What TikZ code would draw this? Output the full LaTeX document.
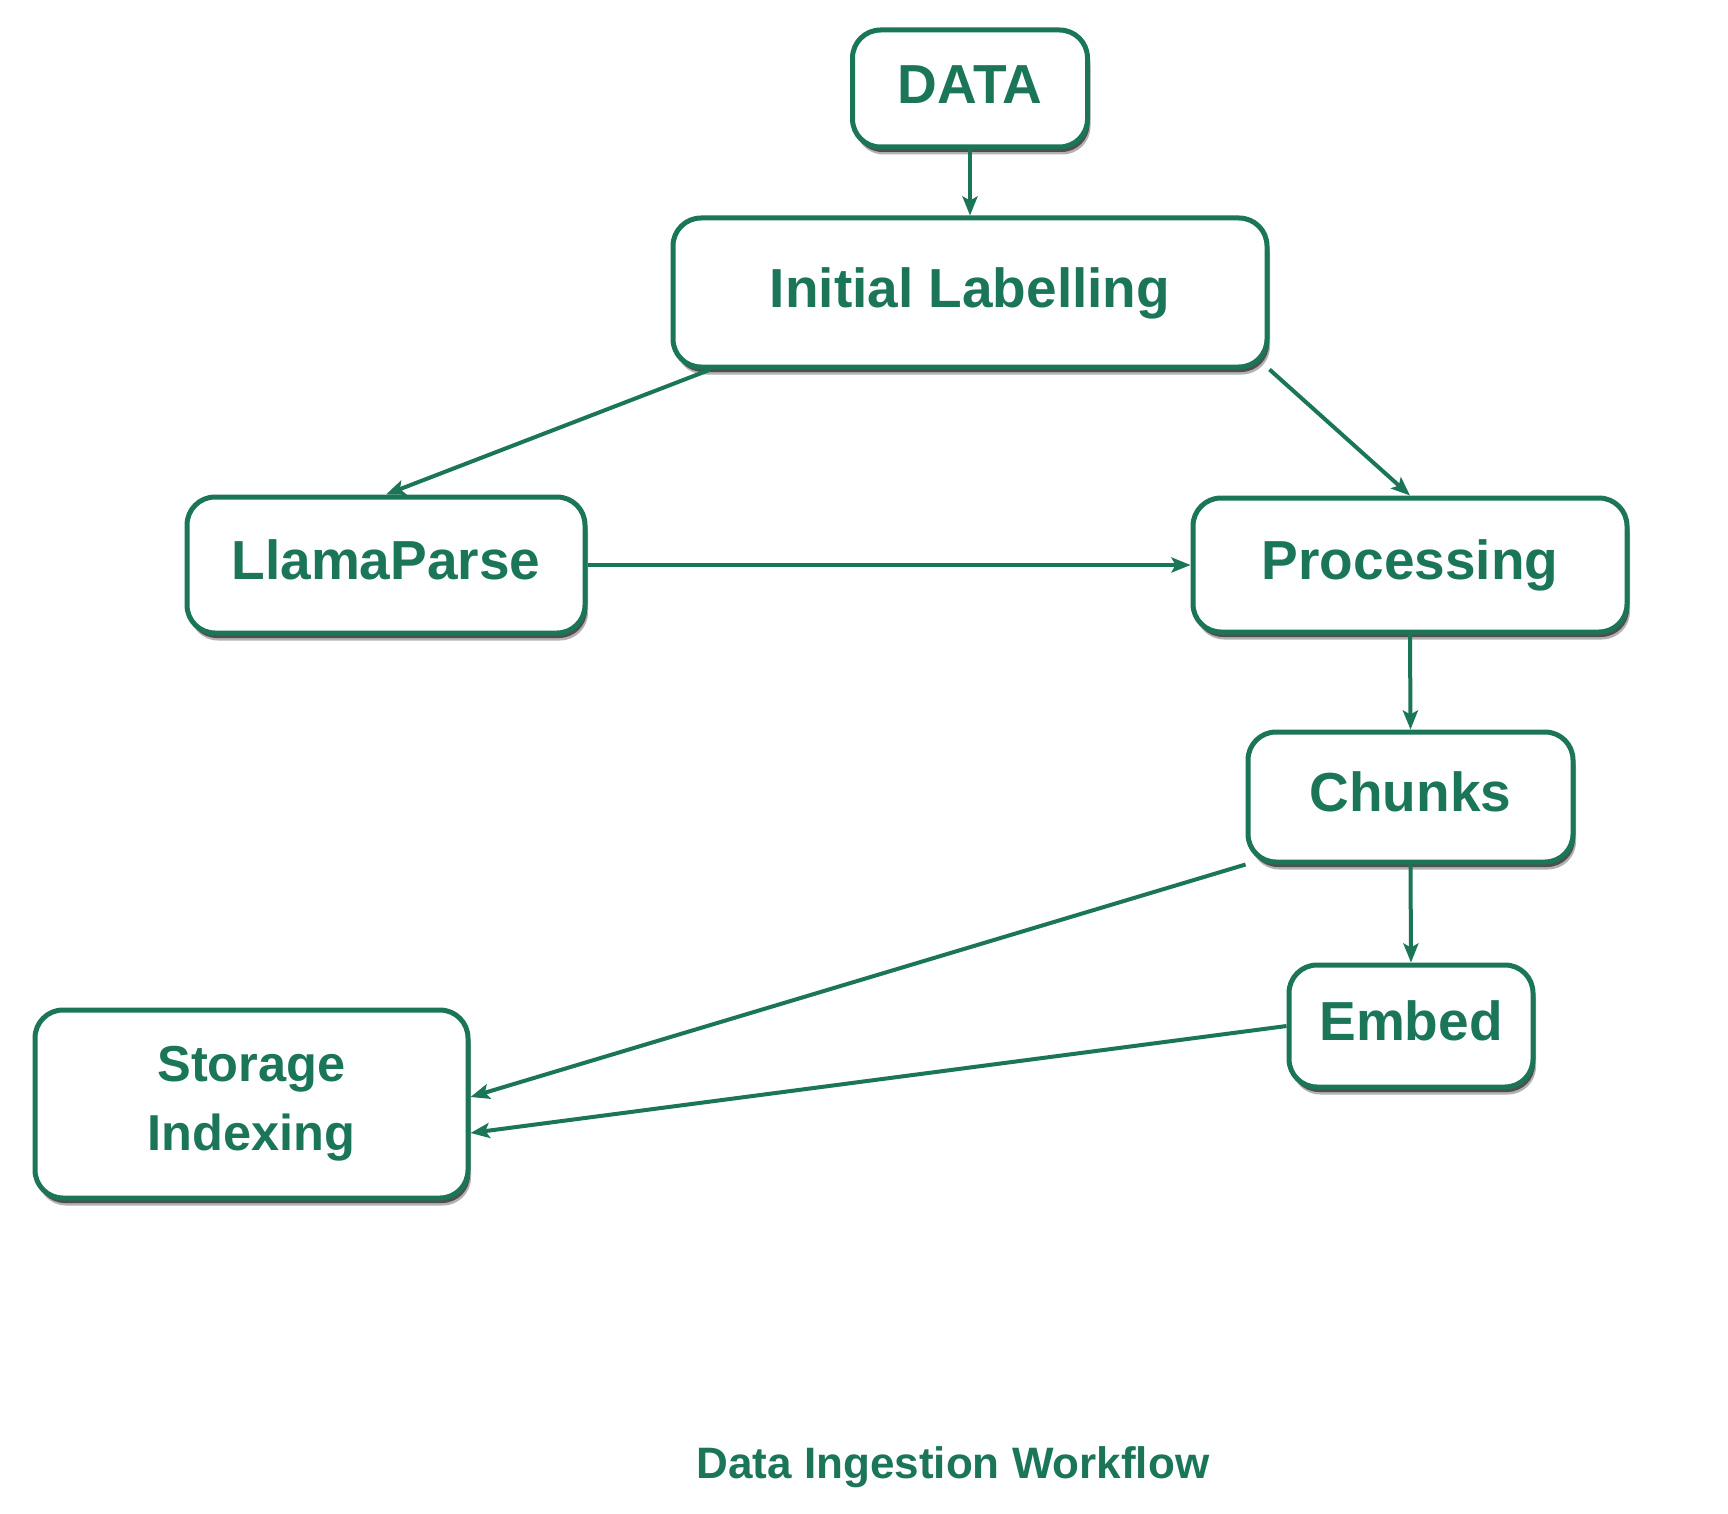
\documentclass[tikz,border=0pt]{standalone}
\usepackage{fontspec}
\setmainfont{Liberation Sans}
\usetikzlibrary{arrows.meta,shadows,calc}
\definecolor{dgreen}{RGB}{27,117,89}
\tikzset{
  box/.style={draw=dgreen, line width=5pt, rounded corners=28pt, fill=white,
    text=dgreen, font=\bfseries\fontsize{55}{69}\selectfont, inner sep=0pt,
    text height=39.4pt, text depth=10pt, align=center,
    drop shadow={shadow xshift=3pt, shadow yshift=-7.5pt, opacity=0.3, fill=black},
    drop shadow={shadow xshift=2pt, shadow yshift=-5pt, opacity=0.7, fill=black!85}},
  conn/.style={draw=dgreen, line width=4pt, -{Stealth[length=19pt,width=15pt,inset=4pt]}},
  ttl/.style={text=dgreen, font=\bfseries\fontsize{44}{52}\selectfont, inner sep=0pt,
    text height=31.5pt, text depth=0pt}
}
\begin{document}
\begin{tikzpicture}[x=1pt,y=-1pt]
\fill[white] (0,0) rectangle (1728,1514);
\useasboundingbox (0,0) rectangle (1728,1514);
\node[box, minimum width=235pt, minimum height=117pt] (data) at (970,88.5) {DATA};
\node[box, minimum width=594pt, minimum height=149pt] (init) at (970,292.5) {Initial Labelling};
\node[box, minimum width=398pt, minimum height=136pt] (llama) at (386,565) {LlamaParse};
\node[box, minimum width=434pt, minimum height=134pt] (proc) at (1410,565) {Processing};
\node[box, minimum width=325pt, minimum height=130pt] (chunks) at (1410.5,797) {Chunks};
\node[box, minimum width=244pt, minimum height=122pt] (embed) at (1411,1026) {Embed};
\node[box, minimum width=433pt, minimum height=188pt, text height=, text depth=,
  font=\bfseries\fontsize{50.5}{69}\selectfont] (storage) at (251.5,1104) {Storage\\Indexing};
\node[ttl] (title) at (953,1463) {Data Ingestion Workflow};
\draw[conn] (data.south) -- (init.north);
\draw[conn] ($(init.south west)+(40,0)$) -- (llama.north);
\draw[conn] (init.south east) -- (proc.north);
\draw[conn] (llama.east) -- (proc.west);
\draw[conn] (proc.south) -- (chunks.north);
\draw[conn] (chunks.south) -- (embed.north);
\draw[conn] (chunks.south west) -- ($(storage.east)+(0,-7)$);
\draw[conn] (embed.west) -- ($(storage.east)+(0,29)$);
\end{tikzpicture}
\end{document}
